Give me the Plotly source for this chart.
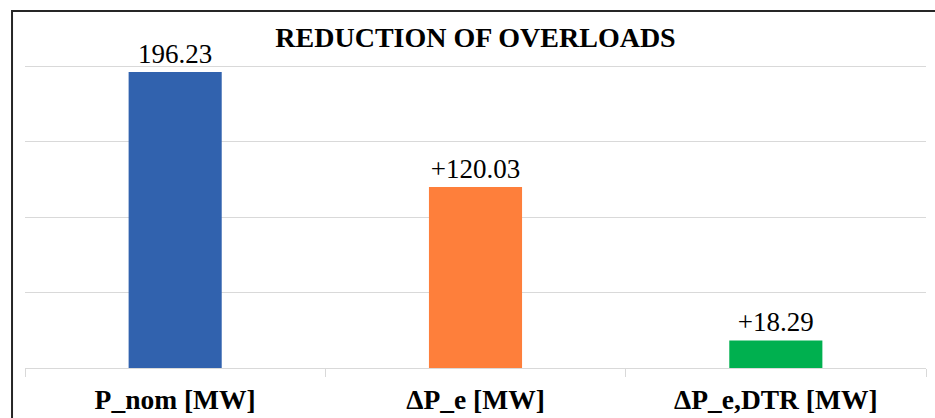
import plotly.graph_objects as go

categories = ["P_nom [MW]", "ΔP_e [MW]", "ΔP_e,DTR [MW]"]
values = [196.23, 120.03, 18.29]
labels = ["196.23", "+120.03", "+18.29"]
colors = ["#3162ae", "#fe7f3b", "#00b04f"]

serif = "Liberation Serif, Times New Roman, serif"

fig = go.Figure()
fig.add_trace(go.Bar(x=categories, y=values, text=labels, textposition="outside",
                     marker=dict(color=colors, line=dict(width=0)), width=0.31,
                     textfont=dict(family=serif, size=27, color="#000000"),
                     cliponaxis=False))

fig.update_layout(
    width=935, height=418,
    margin=dict(l=25, r=9, t=20, b=50),
    paper_bgcolor="white", plot_bgcolor="white",
    showlegend=False,
    title=dict(text="<b>REDUCTION OF OVERLOADS</b>", x=0.5, xref="paper",
               y=1 - 37 / 418, yref="container", xanchor="center", yanchor="middle",
               font=dict(family=serif, size=28, color="#000000")),
)
fig.update_xaxes(showgrid=False, showline=True, linecolor="#d9d9d9", linewidth=1,
                 ticks="outside", ticklen=8, tickcolor="#d9d9d9", tickson="boundaries",
                 ticklabelstandoff=7, automargin=False,
                 tickfont=dict(family=serif, size=27.5, color="#000000"),
                 tickprefix="<b>", ticksuffix="</b>")
fig.update_yaxes(range=[0, 230.7], dtick=50, showgrid=True, gridcolor="#d9d9d9",
                 gridwidth=1, showticklabels=False, zeroline=False, showline=False,
                 automargin=False)

# dark frame around the chart (right and bottom edges fall outside the picture)
fig.add_shape(type="rect", xref="paper", yref="paper",
              x0=-0.0144, x1=1.2, y0=-0.4, y1=1.0259,
              line=dict(color="#262626", width=2), fillcolor="rgba(0,0,0,0)")

# no body margin so the 935x418 figure fills the window exactly
fig.write_html("out.html", config={"displayModeBar": False},
               post_script="document.body.style.margin='0px';")
